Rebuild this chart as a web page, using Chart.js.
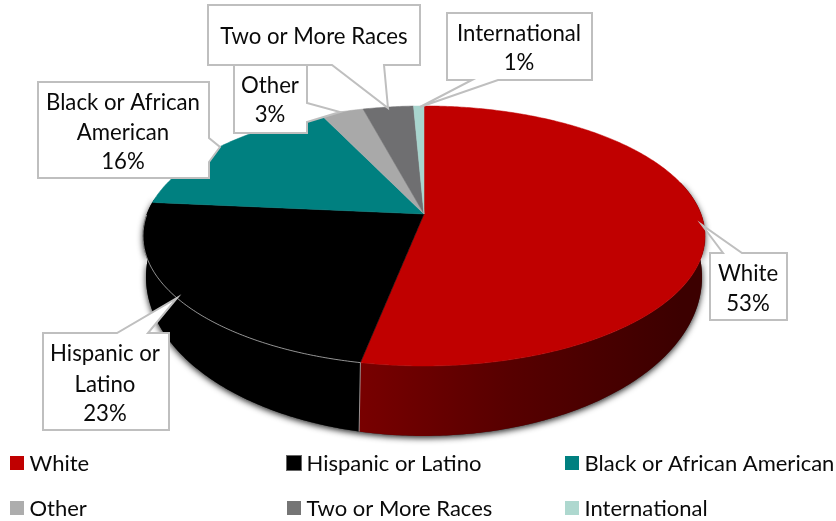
<!DOCTYPE html>
<html>
<head>
<meta charset="utf-8">
<title>Enrollment by race</title>
<script src="https://cdn.jsdelivr.net/npm/chart.js@4/dist/chart.umd.min.js"></script>
<style>
  html, body { margin: 0; padding: 0; background: #fff; }
  #wrap { width: 836px; height: 521px; }
</style>
</head>
<body>
<div id="wrap"><canvas id="pie" width="836" height="521"></canvas></div>
<script>
const categories = ['White', 'Hispanic or Latino', 'Black or African American', 'Other', 'Two or More Races', 'International'];
const shares = [52.8, 23.3, 16.4, 2.9, 3.4, 0.7];
const percentLabels = ['53%', '23%', '16%', '3%', '3%', '1%'];
const sliceColors = ['#c00000', '#000000', '#008080', '#a9a9a9', '#6f6f71', '#a8d5ce'];
const legendColors = ['#c00000', '#000000', '#008080', '#adadad', '#757575', '#aed8cf'];

const FONT = '22.2px Lato, "Open Sans", sans-serif';
const LEGEND_FONT = '22px Lato, "Open Sans", sans-serif';

// perspective of the tilted pie: top face and bottom rim
const topRim = { x: 424, y: 214, kx: 277, ky: 126.3, c: 0.169 };
const botRim = { x: 424, y: 245.2, kx: 272.4, ky: 152.6, c: 0.2 };

function rimPoint(rim, theta) {
    const u = Math.sin(theta), v = Math.cos(theta);
    const w = 1 + rim.c * v;
    return [rim.x + rim.kx * u / w, rim.y - rim.ky * v / w];
}

// theta is measured clockwise from the top, chart.js arcs from 3 o'clock
const toTheta = a => a + Math.PI / 2;

function traceRim(ctx, rim, from, to, first) {
    const steps = Math.max(2, Math.ceil(Math.abs(to - from) / 0.01));
    for (let i = 0; i <= steps; i++) {
        const p = rimPoint(rim, from + (to - from) * i / steps);
        if (i === 0 && first) ctx.moveTo(p[0], p[1]);
        else ctx.lineTo(p[0], p[1]);
    }
}

const SIDE_FROM = 75 * Math.PI / 180;
const SIDE_TO = 277 * Math.PI / 180;

const pie3d = {
    id: 'pie3d',
    beforeDatasetDraw(chart) {
        const ctx = chart.ctx;
        const arcs = chart.getDatasetMeta(0).data;

        // drop shadow under the whole side wall
        ctx.save();
        ctx.shadowColor = 'rgba(0,0,0,0.85)';
        ctx.shadowBlur = 6;
        ctx.shadowOffsetY = 2;
        ctx.fillStyle = '#333';
        ctx.beginPath();
        traceRim(ctx, topRim, SIDE_FROM, SIDE_TO, true);
        traceRim(ctx, botRim, SIDE_TO, SIDE_FROM, false);
        ctx.closePath();
        ctx.fill();
        ctx.restore();

        // side wall
        arcs.forEach((arc, i) => {
            const from = Math.max(toTheta(arc.startAngle), SIDE_FROM);
            const to = Math.min(toTheta(arc.endAngle), SIDE_TO);
            if (to <= from) return;
            const p0 = rimPoint(topRim, from), p1 = rimPoint(topRim, to);
            const grad = ctx.createLinearGradient(p1[0], 0, p0[0], 0);
            if (i === 0) {
                grad.addColorStop(0, '#780000');
                grad.addColorStop(0.45, '#580000');
                grad.addColorStop(1, '#3c0000');
            } else {
                grad.addColorStop(0, '#000');
                grad.addColorStop(1, '#000');
            }
            ctx.fillStyle = grad;
            ctx.beginPath();
            traceRim(ctx, topRim, from, to, true);
            traceRim(ctx, botRim, to, from, false);
            ctx.closePath();
            ctx.fill();
        });

        // top face, built from the angles the library worked out
        arcs.forEach((arc, i) => {
            ctx.fillStyle = sliceColors[i];
            ctx.strokeStyle = sliceColors[i];
            ctx.lineWidth = 0.5;
            ctx.beginPath();
            ctx.moveTo(topRim.x, topRim.y);
            traceRim(ctx, topRim, toTheta(arc.startAngle), toTheta(arc.endAngle), false);
            ctx.closePath();
            ctx.fill();
            ctx.stroke();
        });

        // thin light edge on the black slice and the seam next to it
        const seam = toTheta(arcs[1].startAngle);
        ctx.strokeStyle = 'rgba(190,190,190,0.75)';
        ctx.lineWidth = 1;
        ctx.beginPath();
        traceRim(ctx, topRim, seam, toTheta(arcs[1].endAngle) - 0.1, true);
        ctx.stroke();
        const a = rimPoint(topRim, seam), b = rimPoint(botRim, seam);
        ctx.beginPath();
        ctx.moveTo(a[0], a[1]);
        ctx.lineTo(b[0], b[1]);
        ctx.stroke();
        return false;
    }
};

// callout boxes: box corners, pointer as [base, tip, base] on one box edge, text lines
const callouts = [
    { i: 3, box: [234, 60, 307, 133], ptr: [[307, 103], [340, 112], [307, 122]], edge: 'right',
      lines: ['Other'], cx: 270, ys: [86, 115] },
    { i: 0, box: [710, 253, 787, 320], ptr: [[723, 253], [702, 225], [742, 253]], edge: 'top',
      lines: ['White'], cx: 748, ys: [274, 304] },
    { i: 1, box: [43, 333, 169, 430], ptr: [[117, 333], [177, 298], [148, 333]], edge: 'top',
      lines: ['Hispanic or', 'Latino'], cx: 105, ys: [354, 385, 414] },
    { i: 2, box: [38, 82, 209, 178], ptr: [[209, 138], [220, 147], [209, 162]], edge: 'right',
      lines: ['Black or African', 'American'], cx: 123, ys: [103, 133, 162] },
    { i: 4, box: [208, 5, 420, 65], ptr: [[332, 65], [388, 108], [384, 65]], edge: 'bottom',
      lines: ['Two or More Races'], cx: 314, ys: [37] },
    { i: 5, box: [447, 13, 592, 80], ptr: [[472, 80], [420, 107], [498, 80]], edge: 'bottom',
      lines: ['International'], cx: 519, ys: [34, 63] }
];

const labels3d = {
    id: 'labels3d',
    afterDraw(chart) {
        const ctx = chart.ctx;
        ctx.save();
        ctx.font = FONT;
        ctx.textAlign = 'center';
        ctx.textBaseline = 'middle';
        callouts.forEach(c => {
            const [l, t, r, b] = c.box;
            ctx.beginPath();
            ctx.moveTo(l, t);
            if (c.edge === 'top') c.ptr.forEach(p => ctx.lineTo(p[0], p[1]));
            ctx.lineTo(r, t);
            if (c.edge === 'right') c.ptr.forEach(p => ctx.lineTo(p[0], p[1]));
            ctx.lineTo(r, b);
            if (c.edge === 'bottom') [...c.ptr].reverse().forEach(p => ctx.lineTo(p[0], p[1]));
            ctx.lineTo(l, b);
            ctx.closePath();
            ctx.fillStyle = '#fff';
            ctx.fill();
            ctx.strokeStyle = '#bfbfbf';
            ctx.lineWidth = 2;
            ctx.stroke();
            ctx.fillStyle = '#0a0a0a';
            const text = c.lines.concat(percentLabels[c.i]);
            if (c.ys.length === 1) text.pop();
            text.forEach((s, k) => ctx.fillText(s, c.cx, c.ys[k]));
        });

        // legend in three fixed columns
        const colX = [10, 287, 565], rowY = [463, 508];
        ctx.font = LEGEND_FONT;
        ctx.textAlign = 'left';
        categories.forEach((name, i) => {
            const x = colX[i % 3], y = rowY[Math.floor(i / 3)];
            if (i === 1) {
                ctx.fillStyle = '#666';
                ctx.fillRect(x - 1, y - 8, 16, 16);
            }
            ctx.fillStyle = legendColors[i];
            ctx.fillRect(x, y - 7, 14, 14);
            ctx.fillStyle = '#0a0a0a';
            ctx.fillText(name, x + 19.5, y + 1);
        });
        ctx.restore();
    }
};

new Chart(document.getElementById('pie'), {
    type: 'pie',
    data: {
        labels: categories,
        datasets: [{ data: shares, backgroundColor: sliceColors, borderWidth: 0 }]
    },
    options: {
        responsive: false,
        animation: false,
        devicePixelRatio: 1,
        plugins: { legend: { display: false }, tooltip: { enabled: false } }
    },
    plugins: [pie3d, labels3d]
});
</script>
</body>
</html>
